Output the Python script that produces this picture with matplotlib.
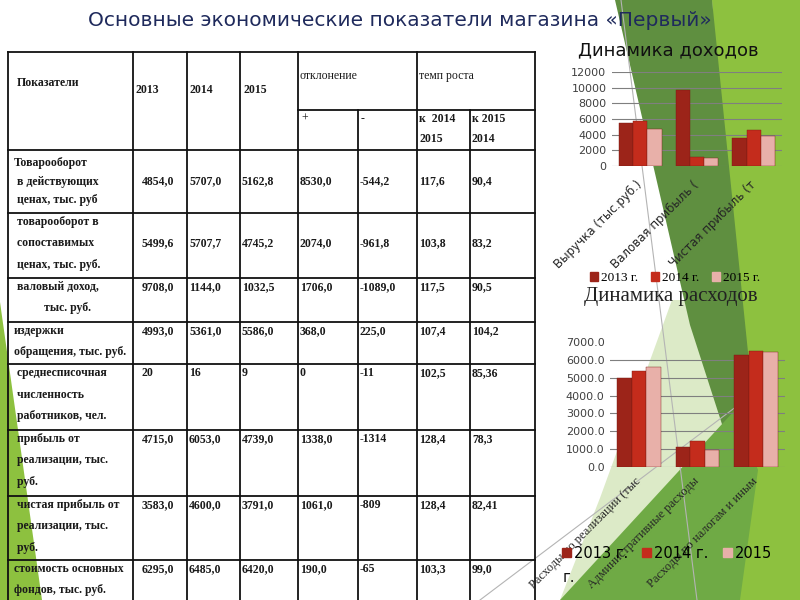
import matplotlib
matplotlib.use("Agg")
import matplotlib.pyplot as plt
from matplotlib.patches import Polygon, Patch
from matplotlib.ticker import FormatStrFormatter

# Data
TITLE = "Основные экономические показатели магазина «Первый»"
years = ["2013", "2014", "2015"]

row_labels = [
    ["Товарооборот", " в действующих", " ценах, тыс. руб"],
    [" товарооборот в", " сопоставимых", " ценах, тыс. руб."],
    [" валовый доход,", "          тыс. руб."],
    ["издержки", "обращения, тыс. руб."],
    [" среднесписочная", " численность", " работников, чел."],
    [" прибыль от", " реализации, тыс.", " руб."],
    [" чистая прибыль от", " реализации, тыс.", " руб."],
    ["стоимость основных", "фондов, тыс. руб."],
]
v2013 = ["4854,0", "5499,6", "9708,0", "4993,0", "20", "4715,0", "3583,0", "6295,0"]
v2014 = ["5707,0", "5707,7", "1144,0", "5361,0", "16", "6053,0", "4600,0", "6485,0"]
v2015 = ["5162,8", "4745,2", "1032,5", "5586,0", "9", "4739,0", "3791,0", "6420,0"]
dev_plus = ["8530,0", "2074,0", "1706,0", "368,0", "0", "1338,0", "1061,0", "190,0"]
dev_minus = ["-544,2", "-961,8", "-1089,0", "225,0", "-11", "-1314", "-809", "-65"]
growth_a = ["117,6", "103,8", "117,5", "107,4", "102,5", "128,4", "128,4", "103,3"]
growth_b = ["90,4", "83,2", "90,5", "104,2", "85,36", "78,3", "82,41", "99,0"]

inc_cats = ["Выручка (тыс.руб.)", "Валовая прибыль (", "Чистая прибыль (т"]
inc_2013 = [5500, 9708, 3583]
inc_2014 = [5708, 1144, 4600]
inc_2015 = [4745, 1033, 3791]

exp_cats = ["Расходы по реализации (тыс", "Административные расходы", "Расходы по налогам и иным"]
exp_2013 = [4993, 1100, 6295]
exp_2014 = [5361, 1450, 6485]
exp_2015 = [5586, 950, 6420]

bar_colors = ["#9C2419", "#C42C1C", "#E8B0A9"]

# Figure + background layer in pixel coords
fig = plt.figure(figsize=(8, 6), dpi=100)
bg = fig.add_axes([0, 0, 1, 1], zorder=0)
bg.set_xlim(0, 800)
bg.set_ylim(600, 0)
bg.axis("off")

shapes = [
    ([(672, 300), (800, 300), (800, 600), (560, 600), (600, 498)], "#DCEAC7"),
    ([(712, 0), (800, 0), (800, 600), (740, 600)], "#8DC13F"),
    ([(615, 0), (712, 0), (758, 450), (740, 480), (690, 325)], "#5F8F40"),
    ([(560, 600), (740, 600), (758, 470), (735, 410)], "#6FAA45"),
    ([(0, 302), (0, 600), (42, 600)], "#8DC13F"),
]
for pts, col in shapes:
    bg.add_patch(Polygon(pts, closed=True, facecolor=col, edgecolor="none"))
bg.plot([621, 697], [0, 600], color="#B4B4B4", lw=0.8)
bg.plot([480, 745], [600, 400], color="#B4B4B4", lw=0.8)

fig.text(0.5, 1 - 20 / 600, TITLE, ha="center", va="center",
         fontsize=14.5, color="#1F2A5C", family="DejaVu Sans")

# Table (pixel layout)
col_x = [8, 133, 187, 240, 298, 358, 417, 470, 535]
row_top = [150, 213, 278, 322, 364, 430, 496, 560]
top_y, sub_y = 52, 110
lc, lw = "#111111", 1.3

bg.plot([col_x[0], col_x[-1]], [top_y, top_y], color=lc, lw=lw)
bg.plot([col_x[4], col_x[-1]], [sub_y, sub_y], color=lc, lw=lw)
for y in row_top:
    bg.plot([col_x[0], col_x[-1]], [y, y], color=lc, lw=lw)
for i, x in enumerate(col_x):
    y0 = sub_y if i in (5, 7) else top_y
    bg.plot([x, x], [y0, 600], color=lc, lw=lw)

tkw = dict(family="Liberation Serif", fontsize=8.5, color="#1A1A1A", va="center")
bg.text(17, 83, "Показатели", weight="bold", **tkw)
for x, yr in zip([136, 190, 243], years):
    bg.text(x, 90, yr, weight="bold", **tkw)
bg.text(300, 76, "отклонение", **tkw)
bg.text(419, 76, "темп роста", **tkw)
bg.text(301, 119, "+", **tkw)
bg.text(361, 119, "-", **tkw)
bg.text(419, 119, "к  2014", weight="bold", **tkw)
bg.text(419, 139, "2015", weight="bold", **tkw)
bg.text(472, 119, "к 2015", weight="bold", **tkw)
bg.text(472, 139, "2014", weight="bold", **tkw)

cols = [v2013, v2014, v2015, dev_plus, dev_minus, growth_a, growth_b]
num_x = [142, 189, 242, 300, 360, 419, 472]
for r, lines in enumerate(row_labels):
    if r == 0:
        ys = [row_top[0] + 13 + k * 18.5 for k in range(len(lines))]
    else:
        ys = [row_top[r] + 9 + k * 21.5 for k in range(len(lines))]
    for y, s in zip(ys, lines):
        bg.text(14, y, s, weight="bold", **tkw)
    ny = ys[1] if r < 2 else ys[0]
    for x, col in zip(num_x, cols):
        bg.text(x, ny, col[r], weight="bold", **tkw)


def bar_chart(rect, cats, series, ylim, step, fmt, lab_font, lab_size, pad):
    ax = fig.add_axes(rect, zorder=2)
    ax.patch.set_alpha(0)
    xs = range(len(cats))
    w = 0.25
    for k, (vals, c) in enumerate(zip(series, bar_colors)):
        ax.bar([x + (k - 1) * w for x in xs], vals, width=w, color=c,
               edgecolor="#7A1A12", linewidth=0.3, zorder=3)
    ax.set_xlim(-0.5, len(cats) - 0.5)
    ax.set_ylim(0, ylim)
    ax.set_yticks(range(0, ylim + 1, step))
    ax.yaxis.set_major_formatter(FormatStrFormatter(fmt))
    ax.grid(axis="y", color="#7F7F7F", lw=0.8, zorder=0)
    ax.set_xticks(list(xs))
    ax.set_xticklabels(cats, rotation=45, ha="right", va="center",
                       rotation_mode="anchor", family=lab_font,
                       fontsize=lab_size, color="#262626")
    ax.tick_params(axis="x", length=0, pad=pad)
    ax.tick_params(axis="y", length=0, pad=4, labelsize=8, labelcolor="#404040")
    for s in ax.spines.values():
        s.set_visible(False)
    return ax


ax1 = bar_chart([612 / 800, 1 - 166 / 600, 170 / 800, 94 / 600], inc_cats,
                [inc_2013, inc_2014, inc_2015], 12000, 2000, "%d",
                "DejaVu Sans", 8.5, 12)
fig.text(668 / 800, 1 - 50 / 600, "Динамика доходов", ha="center", va="center",
         fontsize=13, color="#111111")

ax2 = bar_chart([610 / 800, 1 - 467 / 600, 175 / 800, 125 / 600], exp_cats,
                [exp_2013, exp_2014, exp_2015], 7000, 1000, "%.1f",
                "Liberation Serif", 9, 9)
ax2.get_ygridlines()[-1].set_visible(False)
fig.text(671 / 800, 1 - 297 / 600, "Динамика расходов", ha="center", va="center",
         fontsize=15, color="#222222", family="Liberation Serif")

handles = [Patch(color=c) for c in bar_colors]
labels = [f"{y} г." for y in years]
fig.legend(handles, labels, loc="center", bbox_to_anchor=(675 / 800, 1 - 278 / 600),
           ncol=3, frameon=False, prop={"family": "Liberation Serif", "size": 9.5},
           handlelength=0.6, handleheight=0.6, handletextpad=0.2, columnspacing=1.0)
fig.legend(handles, labels[:2] + [years[2]], loc="center",
           bbox_to_anchor=(667 / 800, 1 - 553 / 600), ncol=3, frameon=False,
           prop={"family": "DejaVu Sans", "size": 10.5},
           handlelength=0.6, handleheight=0.6, handletextpad=0.2, columnspacing=1.0)
fig.text(563 / 800, 1 - 577 / 600, "г.", ha="left", va="center",
         fontsize=10.5, color="#111111")

fig.savefig("out.png", dpi=100)
